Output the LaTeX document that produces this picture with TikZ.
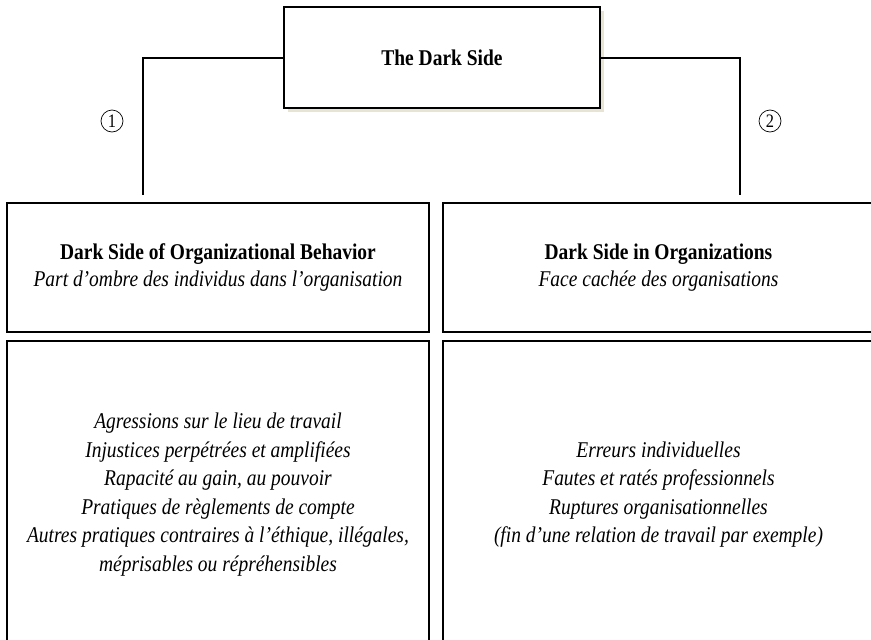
\documentclass[tikz,border=0pt]{standalone}
\usepackage{fontspec}
\setmainfont[FakeStretch=0.865]{Liberation Serif}
\usepackage{xcolor}
\usepackage{tikz}
\usetikzlibrary{calc,shadows}
\definecolor{ink}{HTML}{000000}
\definecolor{shade}{HTML}{E8E4D4}
\tikzset{
  darkbox/.style={draw=ink, line width=2.4pt, fill=white, inner sep=0pt,
    minimum width=316pt, minimum height=101pt,
    drop shadow={shadow xshift=3.5pt, shadow yshift=-3.5pt, fill=shade, opacity=1}},
  subbox/.style={draw=ink, line width=2.8pt, inner sep=0pt, align=center},
  conn/.style={draw=ink, line width=2pt},
  num/.style={draw=ink, circle, line width=0.7pt, minimum size=22pt, inner sep=0pt,
    font=\fontsize{19}{19}\selectfont},
  head/.style={font=\fontsize{22.5}{27.5}\selectfont},
  lab/.style={font=\fontsize{22.5}{28.5}\selectfont\itshape}
}

\begin{document}
\begin{tikzpicture}[x=1pt, y=-1pt]
  \useasboundingbox (0,0) rectangle (871,640);
  \clip (0,0) rectangle (871,640);

  \node[darkbox, head] (dark) at (442,57.5) {\textbf{The Dark Side}};

  % Branch 1
  \node[subbox, head, minimum width=422pt, minimum height=129pt] (ob) at (218,267.5)
    {\textbf{Dark Side of Organizational Behavior}\\
     \textit{Part d’ombre des individus dans l’organisation}};
  \node[subbox, lab, minimum width=422pt, minimum height=307pt] (obList) at (218,494.5)
    {Agressions sur le lieu de travail\\
     Injustices perpétrées et amplifiées\\
     Rapacité au gain, au pouvoir\\
     Pratiques de règlements de compte\\
     Autres pratiques contraires à l’éthique, illégales,\\
     méprisables ou répréhensibles};

  % Branch 2
  \node[subbox, head, minimum width=431pt, minimum height=129pt] (org) at (658.5,267.5)
    {\textbf{Dark Side in Organizations}\\
     \textit{Face cachée des organisations}};
  \node[subbox, lab, minimum width=431pt, minimum height=307pt] (orgList) at (658.5,494.5)
    {Erreurs individuelles\\
     Fautes et ratés professionnels\\
     Ruptures organisationnelles\\
     (fin d’une relation de travail par exemple)};

  \coordinate (obEnd) at (143,195);
  \coordinate (orgEnd) at (740,195);
  \draw[conn] (dark.west) -| (obEnd);
  \draw[conn] (dark.east) -| (orgEnd);

  \node[num] (n1) at (112,121) {1};
  \node[num] (n2) at (770,121) {2};
\end{tikzpicture}
\end{document}
